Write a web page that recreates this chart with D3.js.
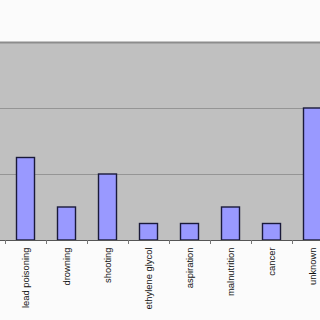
<!DOCTYPE html>
<html>
<head>
<meta charset="utf-8">
<script src="https://cdn.jsdelivr.net/npm/d3@7"></script>
<style>
  body { margin: 0; background: #fbfbfb; }
  svg { display: block; }
</style>
</head>
<body>
<div id="chart"></div>
<script>
const categories = ["lead poisoning", "drowning", "shooting", "ethylene glycol",
    "aspiration", "malnutrition", "cancer", "unknown"];
const counts = [5, 2, 4, 1, 1, 2, 1, 8];
const yTicks = [0, 4, 8, 12];

function drawChart() {
    // plot area, the right side runs past the window like in the original
    const plot = { left: 0, top: 42, bottom: 240, right: 320 };

    const svg = d3.select("#chart")
        .append("svg")
        .attr("width", 320)
        .attr("height", 320);

    svg.append("rect")
        .attr("x", plot.left)
        .attr("y", plot.top)
        .attr("width", plot.right - plot.left)
        .attr("height", plot.bottom - plot.top)
        .attr("fill", "#c0c0c0");

    const y = d3.scaleLinear()
        .domain([0, 12])
        .range([plot.bottom, plot.top]);

    const x = d3.scaleBand()
        .domain(categories)
        .range([5, 333])
        .paddingInner(0)
        .paddingOuter(0);

    // gridlines
    svg.append("g")
        .selectAll("line")
        .data(yTicks.filter(t => t > 0))
        .enter()
        .append("line")
        .attr("x1", plot.left)
        .attr("x2", plot.right)
        .attr("y1", d => y(d) + 0.5)
        .attr("y2", d => y(d) + 0.5)
        .attr("stroke", d => d === 12 ? "#8c8c8c" : "#959595")
        .attr("stroke-width", d => d === 12 ? 2 : 1.2);

    // bars
    const barW = 18;
    svg.append("g")
        .selectAll("rect")
        .data(categories)
        .enter()
        .append("rect")
        .attr("x", d => x(d) + x.bandwidth() / 2 - barW / 2)
        .attr("y", (d, i) => y(counts[i]))
        .attr("width", barW)
        .attr("height", (d, i) => y(0) - y(counts[i]))
        .attr("fill", "#9999ff")
        .attr("stroke", "#1a1a3a")
        .attr("stroke-width", 1.4);

    // category axis, ticks sit between the categories
    const axis = svg.append("g")
        .attr("transform", "translate(0," + plot.bottom + ")");

    axis.append("line")
        .attr("x1", plot.left)
        .attr("x2", plot.right)
        .attr("y1", 0.5)
        .attr("y2", 0.5)
        .attr("stroke", "#555")
        .attr("stroke-width", 1);

    axis.selectAll(".tk")
        .data(categories)
        .enter()
        .append("line")
        .attr("x1", d => x(d) + 0.5)
        .attr("x2", d => x(d) + 0.5)
        .attr("y1", 0)
        .attr("y2", 4)
        .attr("stroke", "#777");

    axis.selectAll("text")
        .data(categories)
        .enter()
        .append("text")
        .attr("transform", d => "translate(" + (x(d) + x.bandwidth() / 2 + 3.5) + ",7.5) rotate(-90)")
        .attr("text-anchor", "end")
        .attr("font-family", "Liberation Sans, Arial, sans-serif")
        .attr("font-size", "9.4px")
        .attr("fill", "#111")
        .text(d => d);
}

drawChart();
</script>
</body>
</html>
